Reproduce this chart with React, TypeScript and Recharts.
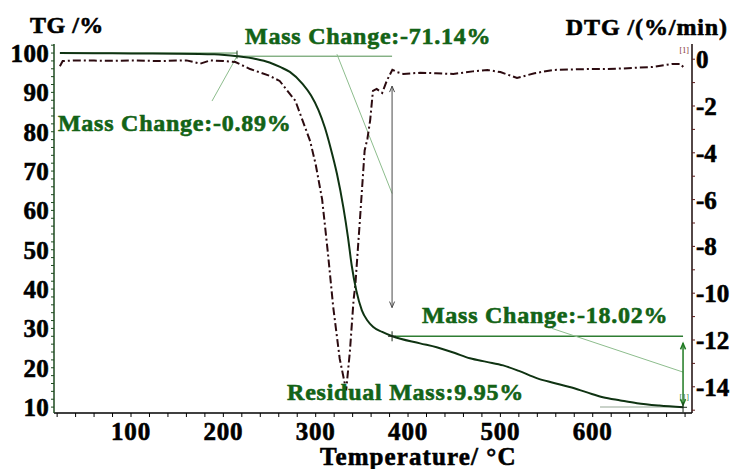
import React from 'react';
import { LineChart, Line, XAxis, YAxis, ReferenceLine, ReferenceDot } from 'recharts';

// ---------- data ----------
const TG_TEMP = [23, 60, 100, 150, 190, 215, 235, 250, 262, 272, 286, 295, 303, 310, 316, 323, 330, 335, 339, 344, 350, 356, 362, 372, 383, 413, 431, 450, 467, 485, 503, 520, 540, 557, 575, 593, 611, 630, 648, 672, 698];
const TG_VALUES = [100, 99.95, 99.9, 99.85, 99.7, 99.2, 98.5, 97.6, 96.4, 95.2, 92.1, 89.2, 85.5, 81, 76, 69.3, 60.7, 53.1, 46, 39.6, 34.6, 32, 30.4, 29.1, 28, 26.2, 25.2, 23.8, 22.4, 21.5, 20.6, 19.2, 17.3, 16.2, 15.1, 13.8, 12.5, 11.7, 11, 10.4, 9.95];

const DTG_TEMP = [23, 26, 40, 60, 80, 100, 130, 160, 175, 186, 200, 213, 229, 250, 261, 278, 294, 300, 307, 313, 319, 326, 333, 337, 341, 343, 348, 353, 356, 359, 362, 366, 372, 377, 383, 388, 395, 413, 430, 449, 470, 486, 500, 518, 537, 557, 575, 594, 612, 630, 648, 665, 687, 695, 700];
const DTG_VALUES = [-0.3, -0.08, -0.05, -0.06, -0.07, -0.05, -0.08, -0.05, -0.19, -0.05, -0.08, -0.12, -0.42, -0.71, -0.93, -1.78, -3.5, -4.5, -6.0, -8.2, -10.6, -12.8, -14.15, -12.5, -10.3, -9.6, -6.8, -3.9, -3.4, -2.6, -1.35, -1.27, -1.44, -0.92, -0.45, -0.55, -0.63, -0.58, -0.6, -0.63, -0.52, -0.46, -0.55, -0.8, -0.6, -0.46, -0.44, -0.42, -0.42, -0.4, -0.36, -0.33, -0.2, -0.2, -0.42];

const X_MAJOR = [100, 200, 300, 400, 500, 600];
const TG_MAJOR = [10, 20, 30, 40, 50, 60, 70, 80, 90, 100];
const DTG_MAJOR = [0, -2, -4, -6, -8, -10, -12, -14];

const MASS_TEXTS = ['Mass Change:-0.89%', 'Mass Change:-71.14%', 'Mass Change:-18.02%', 'Residual Mass:9.95%'];

// ---------- derived ----------
const tgData = TG_TEMP.map((t, i) => ({ t, tg: TG_VALUES[i] }));
const dtgData = DTG_TEMP.map((t, i) => ({ t, dtg: DTG_VALUES[i] }));

const xTicks: number[] = [];
for (let v = 20; v <= 700; v += 20) xTicks.push(v);
const tgTicks: number[] = [];
for (let v = 10; v <= 102; v += 2) tgTicks.push(v);
const dtgTicks: number[] = [];
for (let v = 0; v >= -15; v -= 1) dtgTicks.push(v);

// ---------- styles ----------
const FONT = '"Liberation Serif", "Times New Roman", Times, serif';
const TG_COLOR = '#0f3312';
const DTG_COLOR = '#2c0b10';
const ANN_GREEN = '#136316';
const LEADER = '#8dbd8d';

const boldText = (color: string) => ({
  fontWeight: 'bold' as const,
  fontFamily: FONT,
  fill: color,
  stroke: color,
  strokeWidth: 0.6,
});

const XTick = (p: any) => {
  const { x, y, payload } = p;
  if (!X_MAJOR.includes(payload.value)) return <g />;
  return (
    <text x={x} y={y} dy="0.72em" textAnchor="middle" fontSize={25} letterSpacing={0.8} {...boldText('#000')}>
      {payload.value}
    </text>
  );
};
const LeftTick = (p: any) => {
  const { x, y, payload } = p;
  if (!TG_MAJOR.includes(payload.value)) return <g />;
  return (
    <text x={x} y={y} dy="0.36em" textAnchor="end" fontSize={25} letterSpacing={0.3} {...boldText('#000')}>
      {payload.value}
    </text>
  );
};
const RightTick = (p: any) => {
  const { x, y, payload } = p;
  if (!DTG_MAJOR.includes(payload.value)) return <g />;
  return (
    <text x={x - 1} y={y} dy="0.36em" textAnchor="start" fontSize={25} {...boldText('#000')}>
      {payload.value}
    </text>
  );
};

const arrowShape = (color: string, width: number) => (p: any) => {
  const { x1, y1, x2, y2 } = p;
  const dx = x2 - x1;
  const dy = y2 - y1;
  const len = Math.sqrt(dx * dx + dy * dy) || 1;
  const ux = dx / len;
  const uy = dy / len;
  const h = 6;
  const w = 2.5;
  const head = (tx: number, ty: number, sx: number, sy: number) =>
    `M${tx - sx * h + -sy * w},${ty - sy * h + sx * w} L${tx},${ty} L${tx - sx * h - -sy * w},${ty - sy * h - sx * w}`;
  return (
    <g>
      <line x1={x1} y1={y1} x2={x2} y2={y2} stroke={color} strokeWidth={width} />
      <path d={head(x1, y1, -ux, -uy)} stroke={color} strokeWidth={width} fill="none" />
      <path d={head(x2, y2, ux, uy)} stroke={color} strokeWidth={width} fill="none" />
    </g>
  );
};

const crossShape = (p: any) => {
  const { cx, cy } = p;
  return (
    <g stroke="#1a2a1a" strokeWidth={1}>
      <line x1={cx - 4} y1={cy} x2={cx + 4} y2={cy} />
      <line x1={cx} y1={cy - 5} x2={cx} y2={cy + 5} />
    </g>
  );
};
const vTickShape = (p: any) => {
  const { cx, cy } = p;
  return <line x1={cx} y1={cy - 4} x2={cx} y2={cy + 4} stroke="#1a3a1a" strokeWidth={1} />;
};

const textShape = (label: string, size: number, color: string, spacing = 0.75) => (p: any) => {
  const { cx, cy } = p;
  return (
    <text x={cx} y={cy} fontSize={size} letterSpacing={spacing} {...boldText(color)}>
      {label}
    </text>
  );
};

const smallTag = (color: string) => (p: any) => {
  const { cx, cy } = p;
  return (
    <text x={cx} y={cy} fontSize={8} fontFamily={FONT} fill={color}>
      [1]
    </text>
  );
};

export default function App() {
  return (
    <div style={{ position: 'absolute', left: 0, top: 0, width: 734, height: 469, background: '#fff' }}>
      <LineChart
        width={734}
        height={469}
        margin={{ top: 44, right: 0, bottom: 0, left: 0 }}
        style={{ fontFamily: FONT }}
      >
        <XAxis
          type="number"
          dataKey="t"
          domain={[16.6, 707.5]}
          ticks={xTicks}
          interval={0}
          allowDataOverflow
          height={56}
          tickSize={4}
          tickMargin={5}
          tick={XTick}
          stroke="#000"
          axisLine={{ stroke: '#000', strokeWidth: 1.5 }}
          tickLine={{ stroke: '#000' }}
          label={{
            content: (lp: any) => {
              const vb = lp.viewBox || { x: 54, y: 413, width: 638, height: 56 };
              return (
                <text x={vb.x + 266} y={vb.y + 52} fontSize={25} letterSpacing={1.1} {...boldText('#000')}>
                  Temperature/ °C
                </text>
              );
            },
          }}
        />
        <YAxis
          yAxisId="tg"
          orientation="left"
          width={54}
          domain={[8.5, 102.3]}
          ticks={tgTicks}
          interval={0}
          allowDataOverflow
          tickSize={3}
          tickMargin={2}
          tick={LeftTick}
          axisLine={{ stroke: '#1d4a1f', strokeWidth: 1.5 }}
          tickLine={{ stroke: '#1d4a1f' }}
          label={{
            content: (lp: any) => {
              const vb = lp.viewBox || { x: 0, y: 44 };
              return (
                <text x={vb.x + 30} y={vb.y - 11} fontSize={24} letterSpacing={0.5} {...boldText('#000')}>
                  TG /%
                </text>
              );
            },
          }}
        />
        <YAxis
          yAxisId="dtg"
          orientation="right"
          width={42}
          domain={[-15.12, 0.65]}
          ticks={dtgTicks}
          interval={0}
          allowDataOverflow
          tickSize={3}
          tickMargin={2}
          tick={RightTick}
          axisLine={{ stroke: '#1a0a0a', strokeWidth: 1.5 }}
          tickLine={{ stroke: '#5a1a1a' }}
          label={{
            content: (lp: any) => {
              const vb = lp.viewBox || { x: 692, y: 44 };
              return (
                <text x={vb.x + 36} y={vb.y - 9} textAnchor="end" fontSize={24} letterSpacing={0.9} {...boldText('#000')}>
                  DTG /(%/min)
                </text>
              );
            },
          }}
        />

        {/* annotation lines */}
        <ReferenceLine yAxisId="tg" ifOverflow="visible" segment={[{ x: 23, y: 100 }, { x: 214.8, y: 100 }]} stroke="#4f8f4f" strokeWidth={1} />
        <ReferenceLine yAxisId="tg" ifOverflow="visible" segment={[{ x: 214.8, y: 99.2 }, { x: 382.7, y: 99.2 }]} stroke="#4f8f4f" strokeWidth={1} />
        <ReferenceLine yAxisId="tg" ifOverflow="visible" segment={[{ x: 187.7, y: 87.8 }, { x: 214.8, y: 99.2 }]} stroke={LEADER} strokeWidth={1} />
        <ReferenceLine yAxisId="tg" ifOverflow="visible" segment={[{ x: 323, y: 99.7 }, { x: 382.7, y: 64.3 }]} stroke={LEADER} strokeWidth={1} />
        <ReferenceLine yAxisId="tg" ifOverflow="visible" segment={[{ x: 382.7, y: 91.6 }, { x: 382.7, y: 35.3 }]} shape={arrowShape('#4a4a4a', 1)} />
        <ReferenceLine yAxisId="tg" ifOverflow="visible" segment={[{ x: 382.7, y: 28 }, { x: 697.8, y: 28 }]} stroke="#2e7d32" strokeWidth={1.5} />
        <ReferenceLine yAxisId="tg" ifOverflow="visible" segment={[{ x: 555.9, y: 30 }, { x: 697.8, y: 18.9 }]} stroke={LEADER} strokeWidth={1} />
        <ReferenceLine yAxisId="tg" ifOverflow="visible" segment={[{ x: 697.8, y: 26.2 }, { x: 697.8, y: 10.5 }]} shape={arrowShape('#1f7a22', 1.5)} />
        <ReferenceLine yAxisId="tg" ifOverflow="visible" segment={[{ x: 607.9, y: 10 }, { x: 697.8, y: 10 }]} stroke="#c9d2c9" strokeWidth={2} />

        <Line
          data={dtgData}
          yAxisId="dtg"
          dataKey="dtg"
          type="linear"
          stroke={DTG_COLOR}
          strokeWidth={2}
          strokeDasharray="8 3 2 3"
          dot={false}
          activeDot={false}
          isAnimationActive={false}
        />
        <Line
          data={tgData}
          yAxisId="tg"
          dataKey="tg"
          type="monotone"
          stroke={TG_COLOR}
          strokeWidth={2}
          dot={false}
          activeDot={false}
          isAnimationActive={false}
        />

        {/* markers */}
        <ReferenceDot yAxisId="tg" ifOverflow="visible" x={214.8} y={99.6} shape={vTickShape} />
        <ReferenceDot yAxisId="tg" ifOverflow="visible" x={382.7} y={28} shape={crossShape} />
        <ReferenceDot yAxisId="tg" ifOverflow="visible" x={697.8} y={9.95} shape={crossShape} />

        {/* tags */}
        <ReferenceDot yAxisId="dtg" ifOverflow="visible" x={694} y={0.25} shape={smallTag('#7a2a2a')} />
        <ReferenceDot yAxisId="tg" ifOverflow="visible" x={694} y={11.8} shape={smallTag('#2e7d32')} />

        {/* annotation texts */}
        <ReferenceDot yAxisId="tg" ifOverflow="visible" x={20.9} y={80.2} shape={textShape(MASS_TEXTS[0], 24, ANN_GREEN)} />
        <ReferenceDot yAxisId="tg" ifOverflow="visible" x={223.5} y={102.3} shape={textShape(MASS_TEXTS[1], 24, ANN_GREEN)} />
        <ReferenceDot yAxisId="tg" ifOverflow="visible" x={415} y={31.5} shape={textShape(MASS_TEXTS[2], 24, ANN_GREEN)} />
        <ReferenceDot yAxisId="tg" ifOverflow="visible" x={269} y={11.8} shape={textShape(MASS_TEXTS[3], 24, ANN_GREEN)} />
      </LineChart>
    </div>
  );
}
